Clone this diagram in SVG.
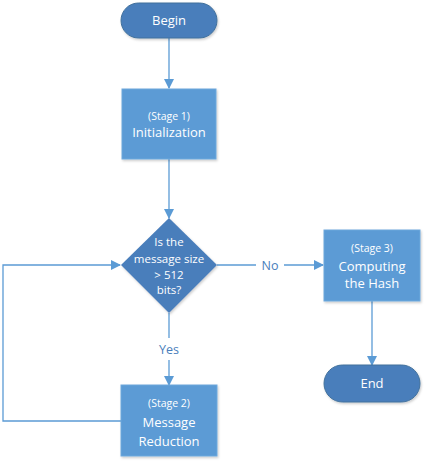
<svg xmlns="http://www.w3.org/2000/svg" width="426" height="465" viewBox="0 0 426 465">
<style>
.pill{fill:#4A7EBB;stroke:#41719C;stroke-width:1}
.box{fill:#5B9BD5;stroke:#6FA8DC;stroke-width:1}
.dia{fill:#4A7EBB}
.t{font-family:"Open Sans","Liberation Sans",sans-serif;fill:#fff;text-anchor:middle}
.big{font-size:13px}
.sm{font-size:10.5px}
.mid{font-size:11.5px}
.c{fill:none;stroke:#5B9BD5;stroke-width:1.3}
.lbl{font-family:"Open Sans","Liberation Sans",sans-serif;fill:#4A7EBB;font-size:12.5px;text-anchor:middle}
</style>
<defs>
<marker id="ah" markerWidth="10" markerHeight="10" refX="9" refY="5" orient="auto" markerUnits="userSpaceOnUse">
<path d="M0,0 L10,5 L0,10 Z" fill="#5B9BD5"/>
</marker>
<filter id="sh" x="-10%" y="-10%" width="130%" height="130%">
<feDropShadow dx="1" dy="1.5" stdDeviation="1" flood-color="#000" flood-opacity="0.2"/>
</filter>
</defs>
<g id="connectors">
<line class="c" x1="169" y1="38" x2="169" y2="88" marker-end="url(#ah)"/>
<line class="c" x1="169" y1="159" x2="169" y2="218" marker-end="url(#ah)"/>
<line class="c" x1="217" y1="265" x2="256" y2="265"/>
<line class="c" x1="284" y1="265" x2="323" y2="265" marker-end="url(#ah)"/>
<text class="lbl" x="270" y="270">No</text>
<line class="c" x1="169" y1="313" x2="169" y2="338"/>
<line class="c" x1="169" y1="360" x2="169" y2="385" marker-end="url(#ah)"/>
<text class="lbl" x="169" y="354">Yes</text>
<line class="c" x1="372" y1="301" x2="372" y2="365" marker-end="url(#ah)"/>
<polyline class="c" points="121,421 3,421 3,265 120,265" marker-end="url(#ah)"/>
</g>
<g id="begin">
<rect class="pill" x="121" y="3" width="96" height="35" rx="17.5" filter="url(#sh)"/>
<text class="t big" x="169" y="25">Begin</text>
</g>
<g id="stage1">
<rect class="box" x="122" y="89" width="94" height="70" filter="url(#sh)"/>
<text class="t sm" x="169" y="120">(Stage 1)</text>
<text class="t big" x="169" y="137">Initialization</text>
</g>
<g id="decision">
<polygon class="dia" points="169,218 217,265 169,313 121,265" filter="url(#sh)"/>
<text class="t mid" x="169" y="246">Is the</text>
<text class="t mid" x="169" y="263">message size</text>
<text class="t mid" x="169" y="279">&gt; 512</text>
<text class="t mid" x="169" y="294">bits?</text>
</g>
<g id="stage3">
<rect class="box" x="324" y="230" width="96" height="71" filter="url(#sh)"/>
<text class="t sm" x="372" y="252">(Stage 3)</text>
<text class="t big" x="372" y="271">Computing</text>
<text class="t big" x="372" y="288">the Hash</text>
</g>
<g id="end">
<rect class="pill" x="324" y="365" width="96" height="37" rx="18.5" filter="url(#sh)"/>
<text class="t big" x="372" y="388">End</text>
</g>
<g id="stage2">
<rect class="box" x="121" y="385" width="96" height="71" filter="url(#sh)"/>
<text class="t sm" x="169" y="407">(Stage 2)</text>
<text class="t big" x="169" y="427">Message</text>
<text class="t big" x="169" y="446">Reduction</text>
</g>
</svg>
